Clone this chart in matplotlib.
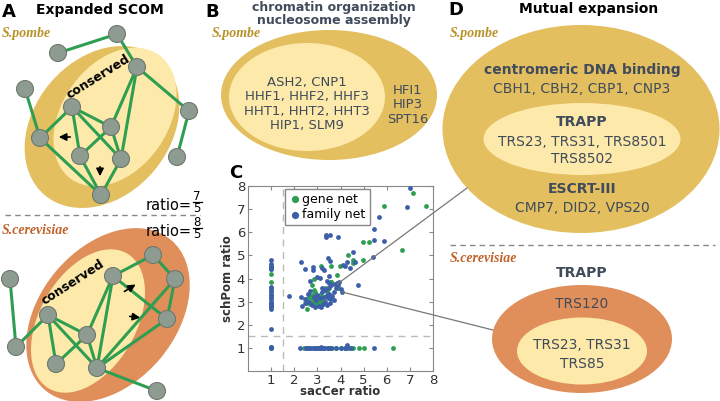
import matplotlib
matplotlib.use("Agg")
import matplotlib.pyplot as plt
from matplotlib.patches import Ellipse, Circle, ConnectionPatch

# ---- scatter data (panel C) ----
gene_x = [1, 1, 1, 1, 1, 1, 1, 1,
          2.4, 2.55, 2.7, 2.85, 3.0, 3.15, 3.3, 3.5, 3.65, 3.8, 4.0, 4.2, 4.4, 4.55, 4.8, 5.0, 6.25,
          3.17, 3.58, 3.97, 4.33, 4.52, 4.55, 4.99, 4.99, 5.25, 5.88, 6.67, 7.13, 7.71,
          2.84, 3.83, 3.58, 2.77,
          2.5, 2.55, 2.6, 2.65, 2.7, 2.75, 2.8, 2.8, 2.85, 2.9, 2.95, 3.0, 3.0, 3.05,
          3.1, 3.1, 3.15, 3.2, 3.25, 3.3, 3.35, 3.4, 2.9, 2.7, 3.0, 3.2, 2.85, 3.9,
          3.6, 2.45, 3.5]
gene_y = [4.55, 4.4, 4.2, 3.85, 3.6, 3.3, 1.05, 1.0,
          1, 1, 1, 1, 1, 1, 1, 1, 1, 1, 1, 1, 1, 1, 1, 1, 1,
          4.55, 4.52, 4.52, 5.0, 4.78, 4.67, 4.78, 5.57, 5.57, 7.13, 5.25, 7.68, 7.13,
          3.99, 4.16, 3.83, 3.72,
          3.1, 2.7, 3.0, 3.2, 2.9, 3.1, 3.3, 2.95, 3.05, 3.2, 2.9, 3.0, 3.15, 3.25,
          3.0, 3.3, 3.1, 3.2, 3.05, 3.55, 3.6, 3.45, 3.4, 3.25, 2.85, 2.9, 3.5, 3.6,
          3.85, 2.95, 3.6]

family_x = [1] * 21 + \
           [2.25, 2.5, 2.6, 2.7, 2.8, 2.9, 3.0, 3.05, 3.1, 3.2, 3.3, 3.4, 3.5, 3.6, 3.8,
            4.0, 4.2, 4.3, 4.45, 5.45, 4.26, 3.15] + \
           [1.77, 2.28, 2.48, 2.81, 2.81, 3.22, 3.36, 3.39, 3.54, 3.9, 3.46, 3.54,
            4.12, 4.19, 4.26, 4.52, 4.62, 4.41, 4.77, 5.45, 5.39, 5.45, 5.68, 5.86,
            6.87, 7.01, 2.67, 3.13] + \
           [2.3, 2.35, 2.45, 2.5, 2.6, 2.7, 2.75, 2.85, 2.9, 3.0, 3.05, 3.15, 3.2, 3.3,
            3.35, 3.4, 3.45, 3.5, 3.55, 3.6, 3.6, 3.65, 3.7, 3.75, 3.8, 3.85, 3.9, 3.95,
            4.0, 4.05, 3.2, 3.35, 3.4, 2.95, 3.1, 3.25, 3.45, 3.7, 2.65, 3.5, 3.0, 3.3,
            3.5, 3.4]
family_y = [4.78, 4.62, 4.5, 4.45, 4.4, 3.62, 3.5, 3.4, 3.3, 3.2, 3.1, 3.0, 2.95,
            2.9, 2.85, 2.8, 2.75, 2.7, 1.8, 1.05, 1.0] + \
           [1] * 20 + [1.12, 1.05] + \
           [3.26, 4.71, 4.42, 4.48, 4.38, 4.45, 5.78, 5.9, 5.88, 5.78, 4.88, 4.74,
            4.59, 4.52, 4.7, 5.13, 4.7, 4.45, 3.72, 5.65, 4.93, 6.16, 6.65, 5.64,
            7.09, 7.93, 3.9, 4.01] + \
           [3.2, 2.8, 3.1, 2.95, 3.35, 3.45, 2.85, 3.2, 2.75, 3.3, 2.8, 2.75, 3.4, 3.2,
            3.0, 2.85, 3.6, 3.35, 2.95, 3.1, 3.7, 3.25, 3.4, 3.75, 3.6, 3.8, 3.7, 3.85,
            3.55, 3.4, 3.6, 3.5, 3.3, 3.05, 3.15, 2.9, 3.15, 3.05, 3.0, 4.1, 4.05, 4.35,
            3.8, 3.9]

ticks = [1, 2, 3, 4, 5, 6, 7, 8]

# ---- network sketches (panel A), pixel positions ----
top_nodes = {1: (117, 34), 2: (58, 53), 3: (137, 67), 4: (25, 89), 5: (72, 107),
             6: (189, 111), 7: (111, 127), 8: (40, 138), 9: (80, 156),
             10: (121, 159), 11: (177, 157), 12: (101, 195)}
top_edges = [(2, 1), (1, 3), (3, 6), (6, 11), (4, 8), (8, 5), (8, 12), (5, 9),
             (5, 7), (5, 10), (3, 7), (3, 10), (7, 9), (7, 10), (9, 12), (10, 12)]
bot_nodes = {1: (10, 279), 2: (153, 255), 3: (113, 276), 4: (175, 279), 5: (48, 315),
             6: (167, 319), 7: (87, 335), 8: (16, 347), 9: (56, 364), 10: (97, 368),
             11: (157, 391)}
bot_edges = [(1, 8), (8, 5), (5, 9), (5, 7), (5, 10), (7, 9), (7, 3), (3, 10),
             (7, 10), (3, 2), (2, 4), (4, 6), (3, 6), (10, 6), (10, 4), (10, 11)]

# ratios written next to the sketches: (numerator, denominator)
ratios = [("7", "5"), ("8", "5")]

gene_genes = "ASH2, CNP1\nHHF1, HHF2, HHF3\nHHT1, HHT2, HHT3\nHIP1, SLM9"
extra_genes = "HFI1\nHIP3\nSPT16"

GOLD = "#e3bf5f"
LIGHT = "#fde9a9"
ORANGE = "#e08f5b"
SLATE = "#404b5b"
GREEN = "#2e9e52"
BLUE = "#3d5ea8"
NODE = "#8e9b90"

fig = plt.figure(figsize=(7.2, 4.01), dpi=100)
ax = fig.add_axes([0, 0, 1, 1])
ax.set_xlim(0, 720)
ax.set_ylim(401, 0)
ax.axis("off")

# ---------- panel A ----------
ax.text(2, 12, "A", fontsize=13, fontweight="bold", va="center")
ax.text(100, 10, "Expanded SCOM", fontsize=10, fontweight="bold", ha="center", va="center")
ax.text(2, 33, "S.pombe", fontsize=10, style="italic", fontweight="bold",
        family="Liberation Serif", color="#b8912a", va="center")
ax.add_patch(Ellipse((102, 127), 178, 136, angle=-50, color=GOLD, lw=0))
ax.add_patch(Ellipse((115, 117), 152, 106, angle=-55, color=LIGHT, lw=0))
ax.text(98, 77, "conserved", fontsize=9, fontweight="bold", rotation=32,
        ha="center", va="center")

ax.text(2, 230, "S.cerevisiae", fontsize=10, style="italic", fontweight="bold",
        family="Liberation Serif", color="#c0622a", va="center")
ax.add_patch(Ellipse((108, 315), 196, 136, angle=-50, color=ORANGE, lw=0))
ax.add_patch(Ellipse((88, 321), 156, 96, angle=-60, color=LIGHT, lw=0))
ax.text(73, 282, "conserved", fontsize=9, fontweight="bold", rotation=33,
        ha="center", va="center")

for nodes, edges in [(top_nodes, top_edges), (bot_nodes, bot_edges)]:
    for a, b in edges:
        ax.plot([nodes[a][0], nodes[b][0]], [nodes[a][1], nodes[b][1]],
                color=GREEN, lw=2.2, zorder=3)
    for p in nodes.values():
        ax.add_patch(Circle(p, 8.5, facecolor=NODE, edgecolor="#6e7a70", lw=0.8, zorder=4))

arrows = [((73, 137), (56, 137)), ((100, 164), (100, 179)),
          ((122, 293), (138, 283)), ((127, 316), (143, 318))]
for start, end in arrows:
    ax.annotate("", xy=end, xytext=start, zorder=5,
                arrowprops=dict(arrowstyle="-|>", color="black", lw=1.2, mutation_scale=11))

for (num, den), ybar in zip(ratios, [202, 228]):
    ax.text(192, ybar + 3, "ratio=", fontsize=10.5, ha="right", va="center")
    ax.text(197, ybar - 5.5, num, fontsize=8.5, ha="center", va="center")
    ax.text(197, ybar + 6, den, fontsize=8.5, ha="center", va="center")
    ax.plot([192.5, 201.5], [ybar, ybar], color="black", lw=0.9)
ax.plot([5, 200], [215, 215], color="#888888", lw=1, dashes=(4, 3))

# ---------- panel B ----------
ax.text(205, 12, "B", fontsize=13, fontweight="bold", va="center")
ax.text(334, 14, "chromatin organization\nnucleosome assembly", fontsize=9,
        fontweight="bold", ha="center", va="center", color=SLATE, linespacing=1.05)
ax.text(212, 33, "S.pombe", fontsize=10, style="italic", fontweight="bold",
        family="Liberation Serif", color="#b8912a", va="center")
ax.add_patch(Ellipse((329, 95), 216, 130, color=GOLD, lw=0))
ax.add_patch(Ellipse((307, 97), 156, 108, color=LIGHT, lw=0))
ax.text(307, 104, gene_genes, fontsize=9.5, ha="center", va="center", color=SLATE,
        linespacing=1.15)
ax.text(408, 105, extra_genes, fontsize=9.5, ha="center", va="center", color=SLATE,
        linespacing=1.15)

# ---------- panel C ----------
ax.text(229, 173, "C", fontsize=13, fontweight="bold", va="center")
sc = fig.add_axes([248 / 720, 30 / 401, 185 / 720, 185 / 401])
sc.scatter(gene_x, gene_y, s=12, color=GREEN, lw=0, label="gene net", zorder=3)
sc.scatter(family_x, family_y, s=12, color=BLUE, lw=0, label="family net", zorder=3)
sc.axvline(1.5, color="#bbbbbb", lw=1, dashes=(5, 4), zorder=1)
sc.axhline(1.5, color="#bbbbbb", lw=1, dashes=(5, 4), zorder=1)
sc.set_xlim(0, 8)
sc.set_ylim(0, 8)
sc.set_xticks(ticks)
sc.set_yticks(ticks)
sc.tick_params(direction="in", length=3, top=True, right=True, labelsize=9.5,
               labelcolor="#333333", color="#888888", pad=2)
for s in sc.spines.values():
    s.set_color("#888888")
sc.set_xlabel("sacCer ratio", fontsize=8.5, fontweight="bold", color="#333333", labelpad=-1)
sc.set_ylabel("schPom ratio", fontsize=8.5, fontweight="bold", color="#333333", labelpad=2)
leg = sc.legend(loc="upper left", bbox_to_anchor=(0.2, 0.985), fontsize=9, fancybox=False,
                edgecolor="#888888", handletextpad=0.1, borderpad=0.3, labelspacing=0.2,
                handlelength=1.0, borderaxespad=0.0, framealpha=1, markerscale=1.5)

# connectors from the scatter cluster to panel D
for xy_a, xy_b in [((3.85, 3.75), (467, 188)), ((4.05, 3.42), (493, 330))]:
    con = ConnectionPatch(xyA=xy_a, coordsA=sc.transData, xyB=xy_b, coordsB=ax.transData,
                          color="#777777", lw=0.9)
    fig.add_artist(con)

# ---------- panel D ----------
ax.text(448, 10, "D", fontsize=13, fontweight="bold", va="center")
ax.text(589, 9, "Mutual expansion", fontsize=10, fontweight="bold", ha="center", va="center")
ax.text(450, 33, "S.pombe", fontsize=10, style="italic", fontweight="bold",
        family="Liberation Serif", color="#b8912a", va="center")
ax.add_patch(Ellipse((581, 129), 277, 208, color=GOLD, lw=0))
ax.add_patch(Ellipse((582, 139), 197, 72, color=LIGHT, lw=0))
ax.text(582, 70, "centromeric DNA binding", fontsize=10, fontweight="bold",
        ha="center", va="center", color=SLATE)
ax.text(582, 89, "CBH1, CBH2, CBP1, CNP3", fontsize=10, ha="center", va="center", color=SLATE)
ax.text(582, 122, "TRAPP", fontsize=10, fontweight="bold", ha="center", va="center", color=SLATE)
ax.text(582, 142, "TRS23, TRS31, TRS8501", fontsize=10, ha="center", va="center", color=SLATE)
ax.text(582, 159, "TRS8502", fontsize=10, ha="center", va="center", color=SLATE)
ax.text(582, 189, "ESCRT-III", fontsize=10, fontweight="bold", ha="center", va="center", color=SLATE)
ax.text(582, 208, "CMP7, DID2, VPS20", fontsize=10, ha="center", va="center", color=SLATE)

ax.plot([450, 715], [245, 245], color="#888888", lw=1, dashes=(4, 3))
ax.text(450, 258, "S.cerevisiae", fontsize=10, style="italic", fontweight="bold",
        family="Liberation Serif", color="#c0622a", va="center")
ax.text(582, 273, "TRAPP", fontsize=10, fontweight="bold", ha="center", va="center", color=SLATE)
ax.add_patch(Ellipse((582, 339), 180, 108, color=ORANGE, lw=0))
ax.add_patch(Ellipse((582, 351), 130, 67, color=LIGHT, lw=0))
ax.text(582, 304, "TRS120", fontsize=10, ha="center", va="center", color=SLATE)
ax.text(582, 345, "TRS23, TRS31", fontsize=10, ha="center", va="center", color=SLATE)
ax.text(582, 364, "TRS85", fontsize=10, ha="center", va="center", color=SLATE)

fig.savefig("out.png", dpi=100)
